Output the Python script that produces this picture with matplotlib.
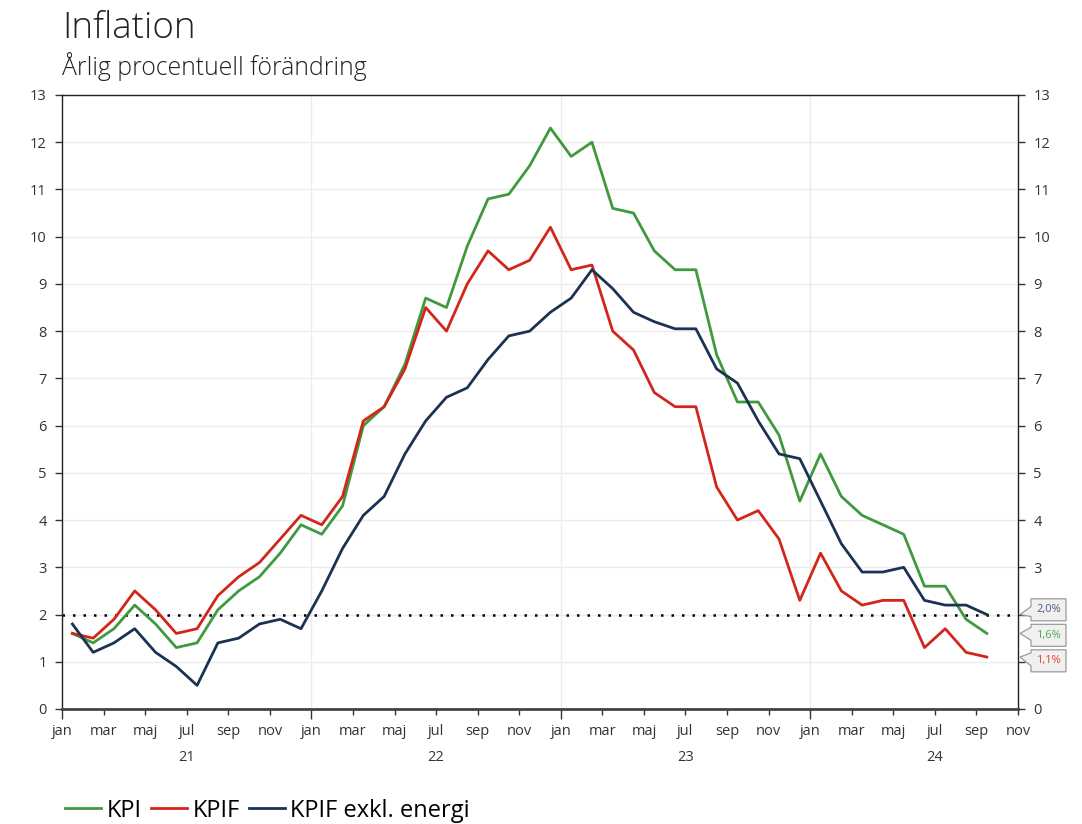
import matplotlib
matplotlib.use("Agg")
import matplotlib.pyplot as plt
from matplotlib.transforms import blended_transform_factory
from matplotlib.patches import Polygon

plt.rcParams['font.family'] = ['Open Sans', 'DejaVu Sans']

# Data: monthly, Jan 2021 .. Sep 2024
kpi = [1.6, 1.4, 1.7, 2.2, 1.8, 1.3, 1.4, 2.1, 2.5, 2.8, 3.3, 3.9,
       3.7, 4.3, 6.0, 6.4, 7.3, 8.7, 8.5, 9.8, 10.8, 10.9, 11.5, 12.3,
       11.7, 12.0, 10.6, 10.5, 9.7, 9.3, 9.3, 7.5, 6.5, 6.5, 5.8, 4.4,
       5.4, 4.5, 4.1, 3.9, 3.7, 2.6, 2.6, 1.9, 1.6]
kpif = [1.6, 1.5, 1.9, 2.5, 2.1, 1.6, 1.7, 2.4, 2.8, 3.1, 3.6, 4.1,
        3.9, 4.5, 6.1, 6.4, 7.2, 8.5, 8.0, 9.0, 9.7, 9.3, 9.5, 10.2,
        9.3, 9.4, 8.0, 7.6, 6.7, 6.4, 6.4, 4.7, 4.0, 4.2, 3.6, 2.3,
        3.3, 2.5, 2.2, 2.3, 2.3, 1.3, 1.7, 1.2, 1.1]
kpif_ex = [1.8, 1.2, 1.4, 1.7, 1.2, 0.9, 0.5, 1.4, 1.5, 1.8, 1.9, 1.7,
           2.5, 3.4, 4.1, 4.5, 5.4, 6.1, 6.6, 6.8, 7.4, 7.9, 8.0, 8.4,
           8.7, 9.3, 8.9, 8.4, 8.2, 8.05, 8.05, 7.2, 6.9, 6.1, 5.4, 5.3,
           4.4, 3.5, 2.9, 2.9, 3.0, 2.3, 2.2, 2.2, 2.0]
series_names = ['KPI', 'KPIF', 'KPIF exkl. energi']
month_labels = ['jan', 'mar', 'maj', 'jul', 'sep', 'nov']
year_labels = ['21', '22', '23', '24']
target = 2.0
end_labels = ['2,0%', '1,6%', '1,1%']

c_green = '#3f9a3f'
c_red = '#d3261b'
c_navy = '#1c3253'

W, H = 1082, 824
fig = plt.figure(figsize=(W / 100, H / 100), dpi=100)
L, R, T, B = 62, 1018, 95, 709
ax = fig.add_axes([L / W, 1 - B / H, (R - L) / W, (B - T) / H])

n = len(kpi)
x = [i + 0.5 for i in range(n)]

ax.plot(x, kpi, color=c_green, lw=2.0, label=series_names[0], zorder=3)
ax.plot(x, kpif, color=c_red, lw=2.0, label=series_names[1], zorder=3)
ax.plot(x, kpif_ex, color=c_navy, lw=2.0, label=series_names[2], zorder=4)
ax.axhline(target, color='black', lw=1.8, ls=(0, (1, 3.2)), zorder=2)

ax.set_xlim(0, 46)
ax.set_ylim(0, 13)
ax.set_yticks(range(0, 14))
ax.grid(axis='y', color='#ececec', lw=1.0, zorder=0)
for xv in (12, 24, 36):
    ax.axvline(xv, color='#ececec', lw=1.0, zorder=0)

ticks = list(range(0, 47, 2))
ax.set_xticks(ticks)
ax.set_xticklabels([month_labels[(t % 12) // 2] for t in ticks])
ax.tick_params(axis='x', length=4, width=1, color='#333333', labelsize=10.5, pad=7, labelcolor='#333333')
ax.tick_params(axis='y', length=5, width=1, color='#333333', labelsize=10.5, labelcolor='#333333',
               left=True, right=True, labelleft=True, labelright=True, pad=6)
for t, lbl in zip(ax.xaxis.get_major_ticks(), ticks):
    if lbl % 12 == 0:
        t.tick1line.set_markersize(7)
# right-side labels 1 and 2 are covered by the end-value callouts
yt = ax.yaxis.get_major_ticks()
yt[1].label2.set_visible(False)
yt[2].label2.set_visible(False)

tr = blended_transform_factory(ax.transData, ax.transAxes)
for i, yl in enumerate(year_labels):
    ax.text(6 + 12 * i, -0.066, yl, transform=tr, ha='center', va='top', fontsize=10.5, color='#333333')

for s in ['left', 'right', 'top']:
    ax.spines[s].set_color('#222222')
    ax.spines[s].set_linewidth(1.0)
ax.spines['bottom'].set_color('#444444')
ax.spines['bottom'].set_linewidth(2.0)

# End-value callouts
fig.canvas.draw()
end_vals = [kpif_ex[-1], kpi[-1], kpif[-1]]
end_cols = ['#4a5a85', '#4fa84f', '#e0453a']
box_pos = [2.10, 1.56, 1.02]
for v, bp, lbl, c in zip(end_vals, box_pos, end_labels, end_cols):
    tipx, tipy = ax.transData.transform((46, v))
    _, cy = ax.transData.transform((46, bp))
    bl, br, hh = tipx + 13, tipx + 48, 11
    pts = [(bl, cy + hh), (br, cy + hh), (br, cy - hh), (bl, cy - hh),
           (bl, min(cy - hh + 6, tipy - 2)), (tipx + 2, tipy), (bl, min(cy + hh - 3, tipy + 8))]
    poly = Polygon(pts, closed=True, transform=None, fc='#f0f0f0', ec='#9a9a9a', lw=0.9, zorder=10)
    poly.set_clip_on(False)
    fig.add_artist(poly)
    fig.text((bl + br) / 2 / W, cy / H, lbl, ha='center', va='center', fontsize=8, color=c, zorder=11)

fig.text(L / W, 1 - 38 / H, 'Inflation', fontsize=26.5, fontweight='light', color='#222222', va='baseline')
fig.text(L / W, 1 - 75 / H, 'Årlig procentuell förändring', fontsize=17.8, fontweight='light', color='#222222', va='baseline')

fig.legend(loc='lower left', bbox_to_anchor=(44 / W, -0.024), ncol=3, frameon=False,
           fontsize=17, handlelength=1.5, handletextpad=0.25, columnspacing=0.4)

fig.savefig('out.png', dpi=100)
